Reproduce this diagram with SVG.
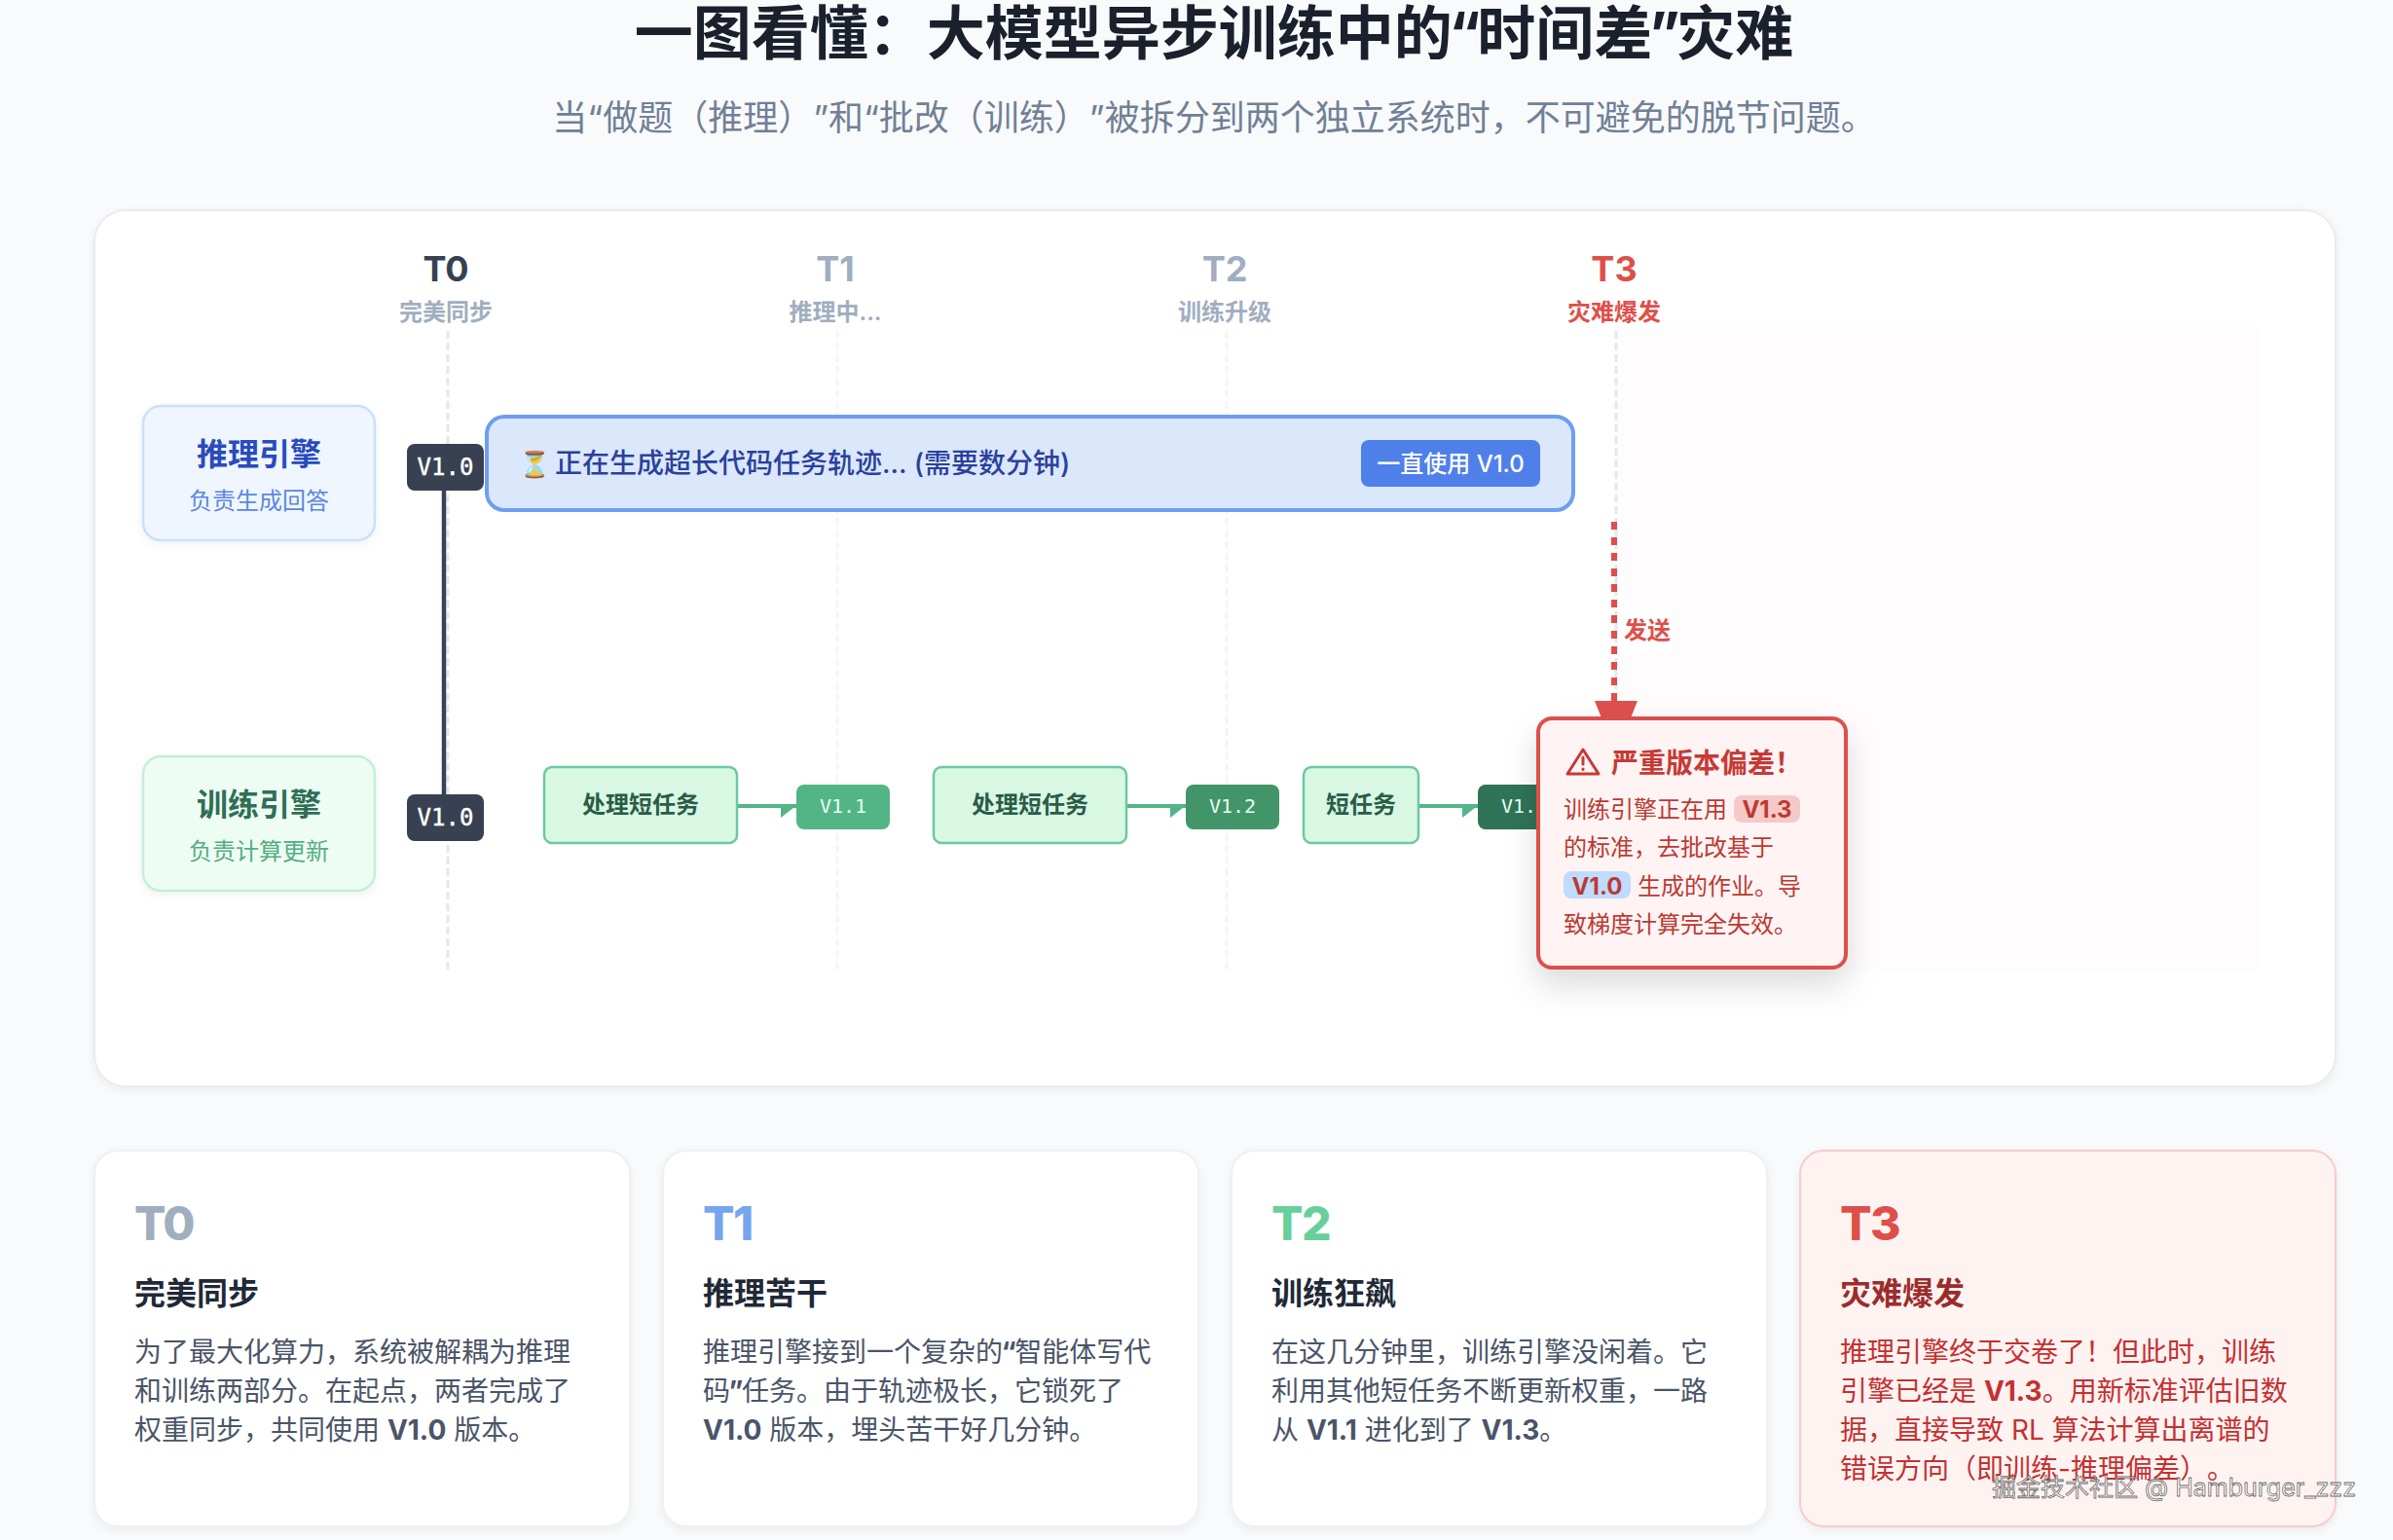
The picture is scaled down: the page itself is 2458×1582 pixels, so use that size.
<svg xmlns="http://www.w3.org/2000/svg" width="2458" height="1582" viewBox="0 0 2458 1582">
<style>
text{font-family:"Inter","Noto Sans CJK SC",sans-serif;text-spacing-trim:space-all}
.mono{font-family:"DejaVu Sans Mono","Noto Sans CJK SC",monospace}
.m{text-anchor:middle}
.tl{font-size:36px;font-weight:700}
.ts{font-size:24px;font-weight:600}
.grid{stroke-width:3;stroke-dasharray:8 4;fill:none}
.eng{font-size:32px;font-weight:700}
.engs{font-size:24px}
.ver{font-size:24px;fill:#fff;stroke:#fff;stroke-width:.4}
.verg{font-size:20px;fill:#e8fff2}
.task rect{fill:#d8f8e4;stroke:#6cc99e;stroke-width:2.5}
.task text{font-size:24px;font-weight:600;fill:#2a5c46}
.gl{stroke:#53b586;stroke-width:4;fill:none}
.gh{fill:#53b586}
.card{fill:#fff;stroke:#edf0f4;stroke-width:2}
.cn{font-size:48px;font-weight:800;letter-spacing:-1.5px}
.ch{font-size:32px;font-weight:700;fill:#1f2937}
.cb{font-size:28px;fill:#4a5568}
.cb tspan,.ab tspan{font-weight:700}
.ab{font-size:24px;fill:#bb3a33}
</style>
<defs>
<filter id="sh" x="-10%" y="-10%" width="120%" height="125%"><feDropShadow dx="0" dy="3" stdDeviation="4" flood-color="#000" flood-opacity=".06"/></filter>
<filter id="sa" x="-30%" y="-30%" width="160%" height="170%"><feDropShadow dx="0" dy="16" stdDeviation="16" flood-color="#000" flood-opacity=".14"/></filter>
</defs>
<rect width="2458" height="1582" fill="#f8fafc"/>
<text id="title" class="m" x="1247" y="56" font-size="60" font-weight="700" fill="#1a202c">一图看懂：大模型异步训练中的<tspan dx="-3.5" letter-spacing="-3.5">“</tspan>时间差<tspan dx="-3.5" letter-spacing="-3.5">”</tspan>灾难</text>
<text id="subtitle" class="m" x="1247" y="134" font-size="36" fill="#718096">当“做题（推理）”和“批改（训练）”被拆分到两个独立系统时，不可避免的脱节问题。</text>

<g id="panel">
<rect x="97" y="216" width="2302" height="900" rx="32" fill="#fff" stroke="#e8ebef" stroke-width="2" filter="url(#sh)"/>
<rect x="1660" y="336" width="660" height="660" fill="#fefcfc"/>
</g>

<g id="time-axis">
<line class="grid" x1="460" y1="996" x2="460" y2="336" stroke="#e2e8f0"/>
<line class="grid" x1="860" y1="996" x2="860" y2="336" stroke="#f3f5f9"/>
<line class="grid" x1="1260" y1="996" x2="1260" y2="336" stroke="#f3f5f9"/>
<line class="grid" x1="1660" y1="996" x2="1660" y2="336" stroke="#e2e8f0"/>
<g id="t0"><text class="tl m" x="458" y="289" fill="#374151">T0</text><text class="ts m" x="458" y="329" fill="#a0aec0">完美同步</text></g>
<g id="t1"><text class="tl m" x="858" y="289" fill="#a0aec0">T1</text><text class="ts m" x="858" y="329" fill="#a0aec0">推理中...</text></g>
<g id="t2"><text class="tl m" x="1258" y="289" fill="#a0aec0">T2</text><text class="ts m" x="1258" y="329" fill="#a0aec0">训练升级</text></g>
<g id="t3"><text class="tl m" x="1658" y="289" fill="#de4f4a">T3</text><text class="ts m" x="1658" y="329" fill="#de4f4a">灾难爆发</text></g>
</g>

<g id="connectors">
<line x1="456" y1="500" x2="456" y2="820" stroke="#3a4256" stroke-width="4.5"/>
<line class="gl" x1="758" y1="828" x2="820" y2="828"/>
<polygon class="gh" points="802,826 820,826 802,840"/>
<line class="gl" x1="1158" y1="828" x2="1220" y2="828"/>
<polygon class="gh" points="1202,826 1220,826 1202,840"/>
<line class="gl" x1="1458" y1="828" x2="1520" y2="828"/>
<polygon class="gh" points="1502,826 1520,826 1502,840"/>
<line x1="1658" y1="536" x2="1658" y2="722" stroke="#dd4f4c" stroke-width="6" stroke-dasharray="8 8"/>
<polygon fill="#dd4f4c" points="1638,720 1682,720 1674,740 1646,740"/>
</g>

<g id="send-label">
<rect x="1662" y="625" width="55" height="44" fill="#fff"/>
<text x="1668" y="656" font-size="24" font-weight="600" fill="#de4f4a">发送</text>
</g>

<g id="engine-infer">
<rect x="147" y="417" width="238" height="138" rx="18" fill="#eff6ff" stroke="#cbdffb" stroke-width="2.5" filter="url(#sh)"/>
<text class="eng m" x="266" y="478" fill="#2a4bbd">推理引擎</text>
<text class="engs m" x="266" y="523" fill="#5b87de">负责生成回答</text>
</g>
<g id="engine-train">
<rect x="147" y="777" width="238" height="138" rx="18" fill="#eefdf4" stroke="#c2efd8" stroke-width="2.5" filter="url(#sh)"/>
<text class="eng m" x="266" y="838" fill="#2f6f56">训练引擎</text>
<text class="engs m" x="266" y="883" fill="#54ad82">负责计算更新</text>
</g>
<g id="v10-infer">
<rect x="418" y="456" width="79" height="48" rx="8" fill="#374151"/>
<text class="ver mono m" x="457.5" y="488">V1.0</text>
</g>
<g id="v10-train">
<rect x="418" y="816" width="79" height="48" rx="8" fill="#374151"/>
<text class="ver mono m" x="457.5" y="848">V1.0</text>
</g>

<g id="long-task">
<rect x="500" y="428" width="1116" height="96" rx="18" fill="#dbe7fb" stroke="#6e9ef0" stroke-width="4"/>
<text x="533" y="486" font-size="26">⏳</text>
<text x="570" y="486" font-size="28" font-weight="500" fill="#2a409e">正在生成超长代码任务轨迹... (需要数分钟)</text>
<rect x="1398" y="452" width="184" height="48" rx="8" fill="#4f80ea"/>
<text class="m" x="1490" y="485" font-size="24" font-weight="500" fill="#fff">一直使用 V1.0</text>
</g>

<g id="task-1" class="task"><rect x="559" y="788" width="198" height="78" rx="8"/><text class="m" x="658" y="835">处理短任务</text></g>
<g id="v11"><rect x="818" y="806" width="96" height="46" rx="8" fill="#53b586"/><text class="verg mono m" x="866" y="835">V1.1</text></g>
<g id="task-2" class="task"><rect x="959" y="788" width="198" height="78" rx="8"/><text class="m" x="1058" y="835">处理短任务</text></g>
<g id="v12"><rect x="1218" y="806" width="96" height="46" rx="8" fill="#429568"/><text class="verg mono m" x="1266" y="835">V1.2</text></g>
<g id="task-3" class="task"><rect x="1339" y="788" width="118" height="78" rx="8"/><text class="m" x="1398" y="835">短任务</text></g>
<g id="v13"><rect x="1518" y="806" width="96" height="46" rx="8" fill="#2f7358"/><text class="verg mono" x="1542" y="835">V1.</text></g>

<g id="alert">
<rect x="1580" y="738" width="316" height="256" rx="14" fill="#fff4f3" stroke="#dd4f4c" stroke-width="4" filter="url(#sa)"/>
<g fill="none" stroke="#c63a35" stroke-width="3" stroke-linejoin="round" stroke-linecap="round">
<path d="M1626 770 L1642 795 H1610 Z"/><path d="M1626 778 V785"/><path d="M1626 790 V790.5"/>
</g>
<text x="1655" y="794" font-size="28" font-weight="700" fill="#c63a35">严重版本偏差！</text>
<rect x="1781" y="817" width="68" height="28" rx="8" fill="#f6c9c9"/>
<rect x="1606" y="895" width="69" height="28" rx="8" fill="#bfdbfe"/>
<text class="ab" x="1606" y="840">训练引擎正在用</text>
<text class="ab m" x="1815" y="840" font-weight="700">V1.3</text>
<text class="ab" x="1606" y="879">的标准，去批改基于</text>
<text class="ab m" x="1640.5" y="918.5" font-weight="700">V1.0</text>
<text class="ab" x="1682" y="918.5">生成的作业。导</text>
<text class="ab" x="1606" y="957.5">致梯度计算完全失效。</text>
</g>

<g id="card-t0">
<rect class="card" x="97" y="1182" width="550" height="386" rx="24" filter="url(#sh)"/>
<text class="cn" x="138" y="1274" fill="#a0aec0">T0</text>
<text class="ch" x="138" y="1340">完美同步</text>
<text class="cb" x="138" y="1399">为了最大化算力，系统被解耦为推理</text>
<text class="cb" x="138" y="1439">和训练两部分。在起点，两者完成了</text>
<text class="cb" x="138" y="1479">权重同步，共同使用 <tspan>V1.0</tspan> 版本。</text>
</g>
<g id="card-t1">
<rect class="card" x="681" y="1182" width="550" height="386" rx="24" filter="url(#sh)"/>
<text class="cn" x="722" y="1274" fill="#76a5f0">T1</text>
<text class="ch" x="722" y="1340">推理苦干</text>
<text class="cb" x="722" y="1399">推理引擎接到一个复杂的<tspan dx="-1.5" letter-spacing="-1.5" font-weight="400">“</tspan>智能体写代</text>
<text class="cb" x="722" y="1439">码<tspan dx="-1.5" letter-spacing="-1.5" font-weight="400">”</tspan>任务。由于轨迹极长，它锁死了</text>
<text class="cb" x="722" y="1479"><tspan>V1.0</tspan> 版本，埋头苦干好几分钟。</text>
</g>
<g id="card-t2">
<rect class="card" x="1265" y="1182" width="550" height="386" rx="24" filter="url(#sh)"/>
<text class="cn" x="1306" y="1274" fill="#68cf9b">T2</text>
<text class="ch" x="1306" y="1340">训练狂飙</text>
<text class="cb" x="1306" y="1399">在这几分钟里，训练引擎没闲着。它</text>
<text class="cb" x="1306" y="1439">利用其他短任务不断更新权重，一路</text>
<text class="cb" x="1306" y="1479">从 <tspan>V1.1</tspan> 进化到了 <tspan>V1.3</tspan>。</text>
</g>
<g id="card-t3">
<rect x="1849" y="1182" width="550" height="386" rx="24" fill="#fff3f2" stroke="#f9caca" stroke-width="2" filter="url(#sh)"/>
<text class="cn" x="1890" y="1274" fill="#de4f4a">T3</text>
<text class="ch" x="1890" y="1340" style="fill:#9b2c2c">灾难爆发</text>
<text class="cb" x="1890" y="1399" style="fill:#c53030">推理引擎终于交卷了！但此时，训练</text>
<text class="cb" x="1890" y="1439" style="fill:#c53030">引擎已经是 <tspan>V1.3</tspan>。用新标准评估旧数</text>
<text class="cb" x="1890" y="1479" style="fill:#c53030">据，直接导致 RL 算法计算出离谱的</text>
<text class="cb" x="1890" y="1519" style="fill:#c53030">错误方向（即训练-推理偏差）。</text>
</g>
<text id="watermark" x="2046" y="1537" font-size="25" fill="#fff" fill-opacity=".6" stroke="#444" stroke-width=".8" stroke-opacity=".8">掘金技术社区 @ Hamburger_zzz</text>
</svg>
